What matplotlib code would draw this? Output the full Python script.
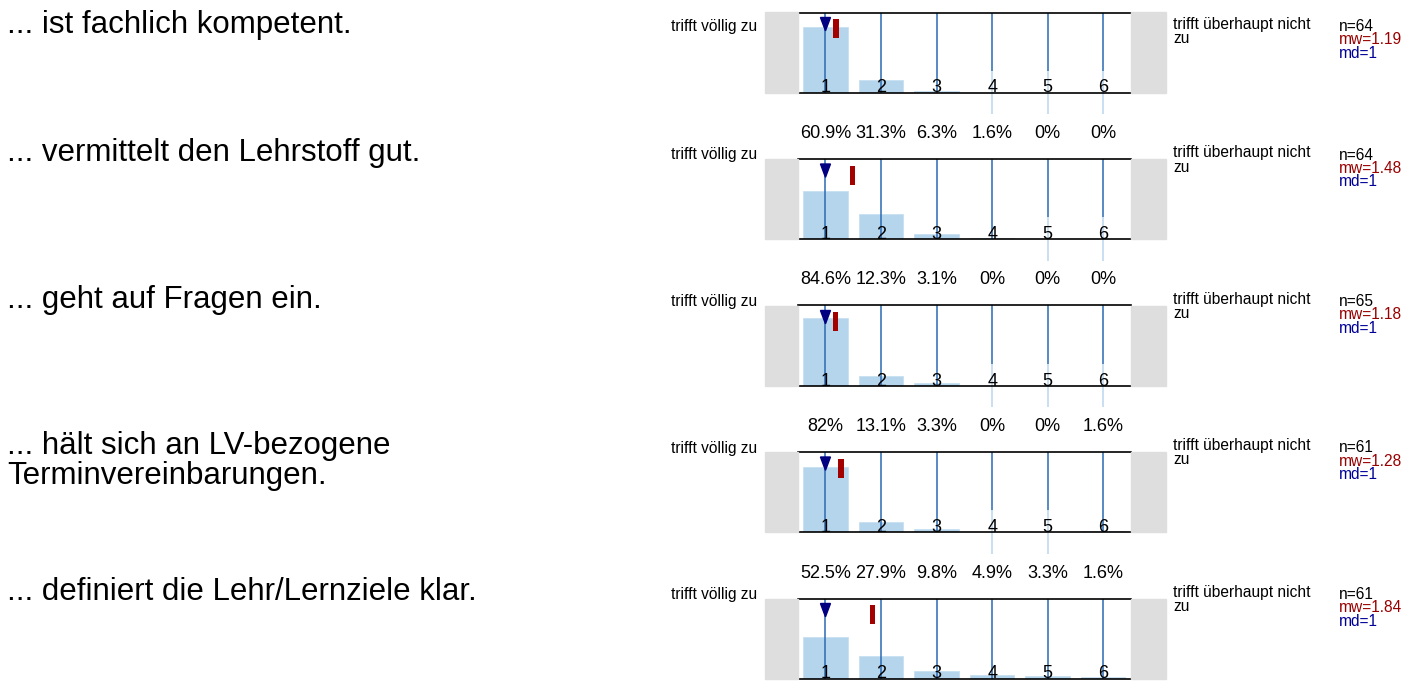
import matplotlib
matplotlib.use("Agg")
import matplotlib.pyplot as plt
from matplotlib.patches import Rectangle, Polygon
from matplotlib.transforms import blended_transform_factory

plt.rcParams['font.family'] = ['Liberation Sans', 'DejaVu Sans']

# ---------------- data ----------------
questions = [
    "... ist fachlich kompetent.",
    "... vermittelt den Lehrstoff gut.",
    "... geht auf Fragen ein.",
    "... hält sich an LV-bezogene\nTerminvereinbarungen.",
    "... definiert die Lehr/Lernziele klar.",
]
categories = [1, 2, 3, 4, 5, 6]
pct_q1 = [82.8, 15.6, 1.6, 0, 0, 0]
pct_q2 = [60.9, 31.3, 6.3, 1.6, 0, 0]
pct_q3 = [84.6, 12.3, 3.1, 0, 0, 0]
pct_q4 = [82, 13.1, 3.3, 0, 0, 1.6]
pct_q5 = [52.5, 27.9, 9.8, 4.9, 3.3, 1.6]
percentages = [pct_q1, pct_q2, pct_q3, pct_q4, pct_q5]
n_values = [64, 64, 65, 61, 61]
mean_values = [1.19, 1.48, 1.18, 1.28, 1.84]
median_values = [1, 1, 1, 1, 1]
left_anchor = "trifft völlig zu"
right_anchor = "trifft überhaupt nicht\nzu"

# ---------------- layout ----------------
W, H = 1418, 681
fig = plt.figure(figsize=(W / 100, H / 100), dpi=100)

def fx(x):
    return x / W

def fy(y):
    return 1 - y / H

CH_LEFT, CH_RIGHT = 797.7, 1131.0
CH_H = 80.0
ROW0, ROW_STEP = 12.5, 146.5
BAR_COL = '#b5d5ec'
LINE_COL = '#2a6ab2'
LIGHT_COL = '#c9dff1'
GREY = '#dedede'
MEAN_COL = '#a30000'
MED_COL = '#000080'

for i, q in enumerate(questions):
    top = ROW0 + i * ROW_STEP
    bottom = top + CH_H
    shift = 18 if i == 0 else 0
    vals = percentages[i]

    # grey side panels
    fig.patches.append(Rectangle((fx(765), fy(bottom)), fx(CH_LEFT - 765), CH_H / H,
                                 transform=fig.transFigure, color=GREY, zorder=0))
    fig.patches.append(Rectangle((fx(CH_RIGHT), fy(bottom)), fx(1166 - CH_RIGHT), CH_H / H,
                                 transform=fig.transFigure, color=GREY, zorder=0))

    ax = fig.add_axes([fx(CH_LEFT), fy(bottom), fx(CH_RIGHT - CH_LEFT), CH_H / H])
    ax.set_xlim(0.5, 6.5)
    ax.set_ylim(0, 101)
    ax.set_facecolor('white')
    for s in ['left', 'right']:
        ax.spines[s].set_visible(False)
    for s in ['top', 'bottom']:
        ax.spines[s].set_linewidth(1.2)
        ax.spines[s].set_color('black')
        ax.spines[s].set_zorder(5)
    ax.set_xticks([])
    ax.set_yticks([])

    ax.bar(categories, vals, width=0.8, color=BAR_COL, edgecolor='#c8e0f2',
           linewidth=0.6, zorder=1)

    bt = blended_transform_factory(ax.transData, ax.transAxes)
    light_frac = 21.7 / CH_H
    for c, v in zip(categories, vals):
        if v == 0:
            ax.plot([c, c], [light_frac, 1], color=LINE_COL, lw=1.1, transform=bt,
                    zorder=3, solid_capstyle='butt')
            ax.plot([c, c], [-light_frac, light_frac], color=LIGHT_COL, lw=1.4,
                    transform=bt, zorder=3, clip_on=False, solid_capstyle='butt')
        else:
            ax.plot([c, c], [0, 1], color=LINE_COL, lw=1.1, transform=bt, zorder=3,
                    solid_capstyle='butt')
        ax.text(c, 0, str(c), transform=bt, ha='center', va='baseline',
                fontsize=13, color='black', zorder=4)

    # median triangle
    px = 1 / 55.55  # data units per pixel
    md = median_values[i]
    tri = Polygon([(md - 5 * px, 1 - 5 / CH_H), (md + 5 * px, 1 - 5 / CH_H),
                   (md, 1 - 18.3 / CH_H)], closed=True, transform=bt,
                  color=MED_COL, zorder=6)
    ax.add_patch(tri)
    # mean bar
    mw = mean_values[i]
    ax.add_patch(Rectangle((mw - 2.6 * px, 1 - 25.7 / CH_H), 5.2 * px, 19 / CH_H,
                           transform=bt, color=MEAN_COL, lw=0, zorder=6))

    # percentage labels above chart (those of the first row lie above the page)
    if top - 21 - 15 > 0:
        for c, v in zip(categories, vals):
            ax.text(c, 1 + 21 / CH_H, f"{v:g}%", transform=bt, ha='center',
                    va='baseline', fontsize=13, color='black', clip_on=False)

    # left question text
    lines = q.split("\n")
    for j, line in enumerate(lines):
        fig.text(fx(7), fy(top + 2 + shift + 30 * j), line, fontsize=22.5,
                 ha='left', va='baseline', color='black')

    # scale anchors
    base = top + 0.5 + shift
    fig.text(fx(757), fy(base), left_anchor, fontsize=11.2,
             ha='right', va='baseline')
    n_lines = right_anchor.count("\n")
    fig.text(fx(1173), fy(base + 12 * n_lines), right_anchor, fontsize=11.2,
             ha='left', va='baseline', linespacing=0.95, multialignment='left')

    # statistics
    stats = [(f"n={n_values[i]}", 'black'),
             (f"mw={mean_values[i]:.2f}", '#990000'),
             (f"md={median_values[i]}", '#000099')]
    for j, (t, col) in enumerate(stats):
        fig.text(fx(1339), fy(base + 13.3 * j), t, fontsize=11.2,
                 ha='left', va='baseline', color=col)

fig.savefig("out.png", dpi=100)
